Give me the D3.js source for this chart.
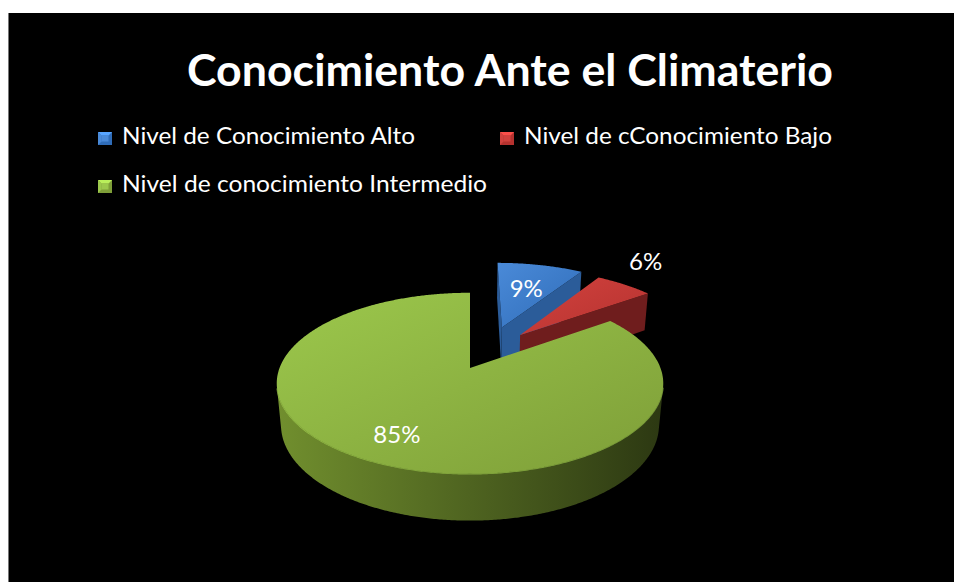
<!DOCTYPE html>
<html>
<head>
<meta charset="utf-8">
<script src="https://cdn.jsdelivr.net/npm/d3@7"></script>
<style>
  body { margin: 0; background: #fff; }
  svg { display: block; }
</style>
</head>
<body>
<script>
// ---- data ----
const title = "Conocimiento Ante el Climaterio";
const categories = [
  "Nivel de Conocimiento Alto",
  "Nivel de cConocimiento Bajo",
  "Nivel de conocimiento Intermedio"
];
const values = [9, 6, 85];
const valueLabels = ["9%", "6%", "85%"];

// ---- styling ----
const W = 954, H = 582;
const explodeDist = [0.53, 0.49, 0];       // slice pull-out, in pie radii
const explodeDir = [20, 35, 0];            // pull-out heading, degrees clockwise from 12 o'clock
const labelRadius = [0.6, 1.22, 0.75];     // label distance from slice apex
const labelLift = [0, 0.09, 0];            // label height above top face
const palette = [
  { top: ["#4a8ad8", "#2f6cb8"], side: ["#2e62a3", "#244f86"], cut: "#2b5c99" },
  { top: ["#d2423e", "#b5322f"], side: ["#7f2323", "#5e1818"], cut: "#6f1d1d" },
  { top: ["#9cc84c", "#7e9e38"], side: ["#718f2e", "#2c3812"], cut: "#556e22" }
];

const svg = d3.select("body").append("svg")
  .attr("width", W).attr("height", H);

svg.append("rect").attr("x", 8).attr("y", 13)
  .attr("width", W - 8).attr("height", H - 13).attr("fill", "#000");
svg.append("line").attr("x1", 8.5).attr("x2", 8.5).attr("y1", 13).attr("y2", H)
  .attr("stroke", "#777").attr("stroke-width", 1);

const defs = svg.append("defs");
function linGrad(id, c0, c1, x1, y1, x2, y2) {
  const g = defs.append("linearGradient").attr("id", id)
    .attr("x1", x1).attr("y1", y1).attr("x2", x2).attr("y2", y2);
  g.append("stop").attr("offset", "0%").attr("stop-color", c0);
  g.append("stop").attr("offset", "100%").attr("stop-color", c1);
  return `url(#${id})`;
}

// ---- title ----
svg.append("text")
  .attr("x", 510).attr("y", 86)
  .attr("text-anchor", "middle")
  .attr("font-family", "Lato, 'Open Sans', sans-serif")
  .attr("font-weight", "bold")
  .attr("font-size", 44)
  .attr("fill", "#fff")
  .attr("textLength", 646)
  .attr("lengthAdjust", "spacingAndGlyphs")
  .text(title);

// ---- legend ----
const legendPos = [
  { x: 98, y: 144, w: 293 },
  { x: 500, y: 144, w: 308 },
  { x: 98, y: 192, w: 365 }
];
categories.forEach((name, i) => {
  const p = legendPos[i];
  const g = svg.append("g").attr("transform", `translate(${p.x},${p.y - 12})`);
  const s = 14, m = 3.5, col = palette[i];
  const lighter = d3.color(col.top[0]).brighter(0.5).formatHex();
  // bevelled marker
  g.append("rect").attr("width", s).attr("height", s - 1).attr("fill", col.top[1]);
  g.append("path").attr("d", `M0,0L${s},0L${s - m},${m}L${m},${m}Z`).attr("fill", lighter);
  g.append("path").attr("d", `M0,0L${m},${m}L${m},${s - 1 - m}L0,${s - 1}Z`).attr("fill", col.top[0]);
  g.append("rect").attr("x", m).attr("y", m).attr("width", s - 2 * m).attr("height", s - 1 - 2 * m)
    .attr("fill", col.top[0]);
  svg.append("text")
    .attr("x", p.x + 24).attr("y", p.y)
    .attr("font-family", "Lato, 'Open Sans', sans-serif")
    .attr("font-size", 23)
    .attr("fill", "#fff")
    .attr("textLength", p.w)
    .attr("lengthAdjust", "spacingAndGlyphs")
    .text(name);
});

// ---- 3D pie ----
const tilt = 27.5 * Math.PI / 180;
const camDist = 5.25, focal = 1000, thick = 0.25;
const cx = 470, cy = 368;
const ct = Math.cos(tilt), st = Math.sin(tilt);
const cam = [0, camDist * st, camDist * ct];

function project([x, y, z]) {
  const Yc = y * ct - z * st, Zc = y * st + z * ct;
  const k = focal / (camDist - Zc);
  return [cx + x * k, cy - Yc * k];
}
function depthOf([x, y, z]) { return y * st + z * ct; }
function facing(n, p) {
  return n[0] * (cam[0] - p[0]) + n[1] * (cam[1] - p[1]) + n[2] * (cam[2] - p[2]) > 1e-3;
}

const arcs = d3.pie().sort(null).value(d => d)(values);
const polygon = pts => "M" + pts.map(p => project(p).map(v => v.toFixed(2)).join(",")).join("L") + "Z";

const slices = arcs.map((a, i) => {
  const mid = (a.startAngle + a.endAngle) / 2;
  const dir = explodeDir[i] * Math.PI / 180;
  const ox = explodeDist[i] * Math.sin(dir), oz = -explodeDist[i] * Math.cos(dir);
  const pt = (ang, r, y) => [ox + r * Math.sin(ang), y, oz - r * Math.cos(ang)];
  return { i, a, mid, ox, oz, pt, apexDepth: depthOf([ox, 0, oz]) };
});

const pieG = svg.append("g");
slices.slice().sort((p, q) => p.apexDepth - q.apexDepth).forEach(sl => {
  const { i, a, pt } = sl;
  const col = palette[i];
  const g = pieG.append("g");
  const n = Math.max(4, Math.ceil((a.endAngle - a.startAngle) / (Math.PI / 360)));
  const angs = d3.range(n + 1).map(k => a.startAngle + (a.endAngle - a.startAngle) * k / n);

  // outer wall: visible runs only
  const sideFill = linGrad(`side${i}`, col.side[0], col.side[1], "0%", "0%", "100%", "0%");
  let run = [];
  const flush = () => {
    if (run.length > 1) {
      const top = run.map(t => pt(t, 1, 0));
      const bot = run.slice().reverse().map(t => pt(t, 1, -thick));
      g.append("path").attr("d", polygon(top.concat(bot))).attr("fill", sideFill);
      // light rim on the upper edge of the wall
      g.append("path")
        .attr("d", "M" + top.map(p => project(p).join(",")).join("L"))
        .attr("fill", "none").attr("stroke", d3.color(col.top[0]).brighter(0.4))
        .attr("stroke-opacity", 0.55).attr("stroke-width", 1.4);
    }
    run = [];
  };
  angs.forEach(t => {
    const p = pt(t, 1, -thick / 2);
    const nrm = [Math.sin(t), 0, -Math.cos(t)];
    if (facing(nrm, p)) run.push(t); else flush();
  });
  flush();

  // radial cut faces
  [[a.startAngle, -1], [a.endAngle, 1]].forEach(([t, sgn]) => {
    const nrm = [sgn * Math.cos(t), 0, sgn * Math.sin(t)];
    const c = pt(t, 0.5, -thick / 2);
    if (facing(nrm, c)) {
      const quad = [pt(t, 0, 0), pt(t, 1, 0), pt(t, 1, -thick), pt(t, 0, -thick)];
      g.append("path").attr("d", polygon(quad)).attr("fill", col.cut);
    }
  });

  // top face
  const topPts = [pt(0, 0, 0)].concat(angs.map(t => pt(t, 1, 0)));
  g.append("path").attr("d", polygon(topPts))
    .attr("fill", linGrad(`top${i}`, col.top[0], col.top[1], "0%", "0%", "100%", "100%"));
});

// ---- data labels ----
slices.forEach(sl => {
  const p = project(sl.pt(sl.mid, labelRadius[sl.i], labelLift[sl.i]));
  svg.append("text")
    .attr("x", p[0]).attr("y", p[1]).attr("dy", "0.36em")
    .attr("text-anchor", "middle")
    .attr("font-family", "Lato, 'Open Sans', sans-serif")
    .attr("font-size", 24)
    .attr("fill", "#fff")
    .text(valueLabels[sl.i]);
});
</script>
</body>
</html>
